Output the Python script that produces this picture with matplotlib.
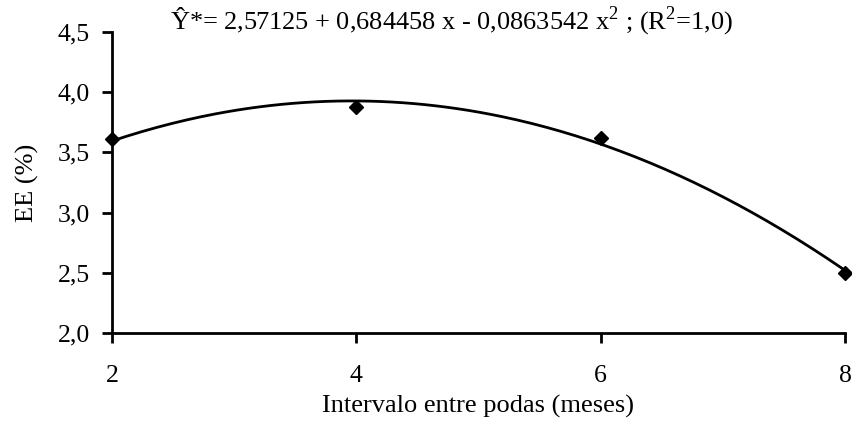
import numpy as np
import matplotlib
matplotlib.use("Agg")
import matplotlib.pyplot as plt
from matplotlib.ticker import FuncFormatter

# observed means
meses = [2, 4, 6, 8]
ee = [3.61, 3.88, 3.62, 2.50]

# fitted quadratic (from the equation printed on the chart): b0, b1, b2
coef = [2.57125, 0.684458, -0.0863542]
equacao = r"Ŷ*= 2,57125 + 0,684458 x - 0,0863542 x$^2$ ; (R$^2$=1,0)"

yticks = [2.0, 2.5, 3.0, 3.5, 4.0, 4.5]
xticks = [2, 4, 6, 8]

plt.rcParams["font.family"] = ["Liberation Serif", "DejaVu Serif"]
plt.rcParams["mathtext.fontset"] = "custom"
plt.rcParams["mathtext.rm"] = "Liberation Serif"

fig = plt.figure(figsize=(8.53, 4.25), dpi=100)
ax = fig.add_axes([0.1313, 0.2165, 0.8593, 0.7082])

xs = np.linspace(meses[0], meses[-1], 200)
ys = coef[0] + coef[1] * xs + coef[2] * xs ** 2
ax.plot(xs, ys, color="black", lw=2, zorder=2)
ax.plot(meses, ee, ls="none", marker="D", ms=7.5, color="black", zorder=3, clip_on=False)

ax.set_xlim(2, 8)
ax.set_ylim(2.0, 4.5)
ax.set_xticks(xticks)
ax.set_yticks(yticks)
ax.yaxis.set_major_formatter(FuncFormatter(lambda v, p: f"{v:.1f}".replace(".", ",")))
ax.tick_params(labelsize=18.5, width=2, length=7, colors="black")
ax.tick_params(axis="x", pad=16)
ax.tick_params(axis="y", pad=9)
for s in ["top", "right"]:
    ax.spines[s].set_visible(False)
for s in ["left", "bottom"]:
    ax.spines[s].set_linewidth(2)

ax.set_xlabel("Intervalo entre podas (meses)", fontsize=19, labelpad=6)
ax.set_ylabel("EE (%)", fontsize=19, labelpad=13)
# fixed y so matplotlib does not push the title above the "4,5" label
ax.set_title(equacao, fontsize=19, x=0.464, y=1.0, pad=1.5)

fig.savefig("out.png", dpi=100)
